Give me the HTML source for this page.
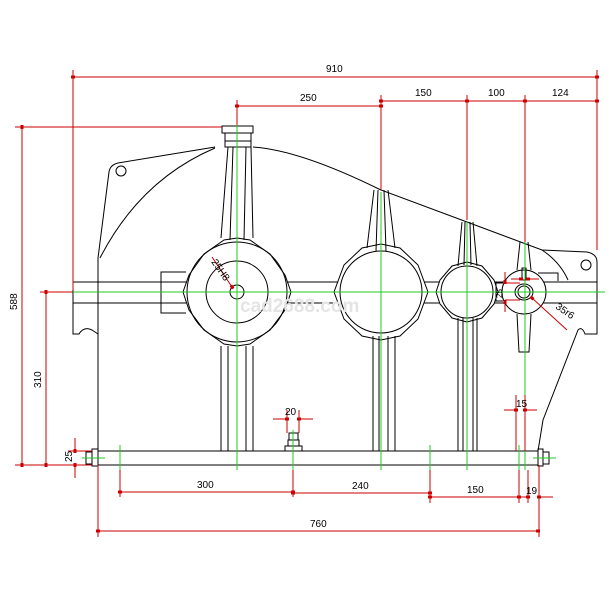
<!DOCTYPE html>
<html><head><meta charset="utf-8"><style>
html,body{margin:0;padding:0;background:#fff;}
svg{display:block;}
text{font-family:"Liberation Sans",sans-serif;font-size:10px;fill:#000;}
</style></head><body>
<svg width="610" height="610" viewBox="0 0 610 610" xmlns="http://www.w3.org/2000/svg">
<defs>
<marker id="a" viewBox="0 0 6 6" refX="3" refY="3" markerWidth="6" markerHeight="6" orient="auto"><rect x="1" y="1.5" width="4" height="3" fill="#c00"/></marker>
</defs>

<!-- housing black -->
<g stroke="#000" stroke-width="1" fill="none">
<!-- left ear & wall -->
<path d="M215,147 L118,163 Q110,165 109,172 L98,258 L98,451"/>
<path d="M215,148 Q140,180 100,258"/>
<circle cx="121" cy="171" r="5"/>
<!-- top cover right slope -->
<path d="M253,147 Q300,150 381,190 L467,222 L542,250 L587,252 Q597,254 597,262 L597,334 L585,334 Q582,326 578,330 L543,420 L538,451"/>
<path d="M542,250 Q560,262 568,280"/>
<path d="M538,273 L558,273 L558,281"/>
<circle cx="586" cy="265" r="5"/>
<!-- bearing cap -->
<rect x="222" y="126" width="31" height="7"/>
<rect x="225" y="133" width="26" height="8"/>
<rect x="225" y="141" width="26" height="6"/>
<!-- flange strip -->
<line x1="73" y1="282" x2="597" y2="282"/>
<line x1="73" y1="303" x2="597" y2="303"/>
<path d="M73,282 L73,334 L79,334 Q84,326 92,330 L98,334"/>
<path d="M186,272 L161,272 L161,313 L186,313"/>
<!-- shaft 1 -->
<path fill="#fff" d="M237,238 L250,240 L270,254 L285,275 L291,292 L285,310 L270,330 L250,344 L237,346 L224,344 L204,330 L189,310 L183,292 L189,275 L204,254 L224,240 Z"/>
<circle cx="237" cy="292" r="50"/>
<circle cx="237" cy="292" r="31"/>
<circle cx="237" cy="292" r="7"/>
<path d="M228,147 L221,238 M233,147 L230,240 M246,147 L244,240 M251,147 L253,238"/>
<path d="M221,346 L221,451 M228,346 L228,451 M246,346 L246,451 M253,346 L253,451"/>
<!-- shaft 2 -->
<path fill="#fff" d="M381,244 L400,248 L418,265 L428,292 L418,319 L400,336 L381,340 L362,336 L344,319 L334,292 L344,265 L362,248 Z"/>
<circle cx="381" cy="292" r="41"/>
<path d="M374,190 L367,248 M378,190 L376,251 M384,190 L386,251 M388,190 L395,248"/>
<path d="M373,336 L373,451 M379,336 L379,451 M388,336 L388,451 M395,336 L395,451"/>
<!-- shaft 3 -->
<path fill="#fff" d="M467,262 L482,266 L494,280 L498,292 L494,304 L482,318 L467,322 L452,318 L440,304 L436,292 L440,280 L452,266 Z"/>
<circle cx="467" cy="292" r="26"/>
<path d="M462,222 L458,266 M465,222 L464,265 M470,222 L471,265 M473,222 L477,266"/>
<path d="M458,318 L458,451 M463,318 L463,451 M473,318 L473,451 M477,318 L477,451"/>
<path d="M503,283 L496,283 L496,301 L503,301"/>
<!-- shaft 4 -->
<circle cx="524" cy="292" r="22" fill="#fff"/>
<ellipse cx="524" cy="292" rx="9" ry="8"/>
<ellipse cx="524" cy="292" rx="6" ry="6"/>
<path d="M520,242 L517,270 M528,242 L531,270"/>
<path d="M517,314 L519,352 L529,352 L531,314"/>
<rect x="522" y="268" width="4" height="12"/>
<!-- base -->
<rect x="98" y="451" width="440" height="14"/>
<rect x="86" y="452" width="6" height="12"/><rect x="92" y="449" width="6" height="17"/>
<rect x="538" y="449" width="5" height="17"/><rect x="543" y="452" width="6" height="12"/>
<!-- drain plug -->
<rect x="285" y="446" width="17" height="5"/>
<rect x="288" y="440" width="11" height="6"/>
<rect x="289" y="433" width="9" height="7"/>
</g>
<text x="240" y="312" style="font-size:19px;fill:#e4e4e4;font-weight:bold">cad2688.com</text>

<!-- green centerlines -->
<g stroke="#2c2" stroke-width="1">
<line x1="65" y1="292" x2="605" y2="292"/>
<line x1="237" y1="125" x2="237" y2="470"/>
<line x1="381" y1="192" x2="381" y2="470"/>
<line x1="467" y1="222" x2="467" y2="470"/>
<line x1="525" y1="240" x2="525" y2="470"/>
<line x1="120" y1="445" x2="120" y2="470"/>
<line x1="293" y1="430" x2="293" y2="470"/>
<line x1="430" y1="445" x2="430" y2="470"/>
<line x1="519" y1="445" x2="519" y2="470"/>
<line x1="82" y1="458" x2="105" y2="458"/>
<line x1="533" y1="458" x2="556" y2="458"/>
</g>

<!-- red dimensions -->
<g stroke="#c00" stroke-width="1" fill="none">
<line x1="73" y1="70" x2="73" y2="290"/>
<line x1="597" y1="70" x2="597" y2="250"/>
<line x1="73" y1="77" x2="597" y2="77" marker-start="url(#a)" marker-end="url(#a)"/>
<line x1="237" y1="100" x2="237" y2="125"/>
<line x1="381" y1="95" x2="381" y2="190"/>
<line x1="467" y1="95" x2="467" y2="220"/>
<line x1="525" y1="95" x2="525" y2="242"/>
<line x1="237" y1="106" x2="381" y2="106" marker-start="url(#a)" marker-end="url(#a)"/>
<line x1="381" y1="101" x2="467" y2="101" marker-start="url(#a)" marker-end="url(#a)"/>
<line x1="467" y1="101" x2="525" y2="101" marker-start="url(#a)" marker-end="url(#a)"/>
<line x1="525" y1="101" x2="597" y2="101" marker-start="url(#a)" marker-end="url(#a)"/>
<line x1="15" y1="127" x2="222" y2="127"/>
<line x1="22" y1="127" x2="22" y2="465" marker-start="url(#a)" marker-end="url(#a)"/>
<line x1="15" y1="465" x2="92" y2="465"/>
<line x1="40" y1="292" x2="73" y2="292"/>
<line x1="46" y1="292" x2="46" y2="465" marker-start="url(#a)" marker-end="url(#a)"/>
<line x1="68" y1="451" x2="92" y2="451"/>
<line x1="75" y1="438" x2="75" y2="451" marker-end="url(#a)"/>
<line x1="75" y1="478" x2="75" y2="465" marker-end="url(#a)"/>
<line x1="120" y1="470" x2="120" y2="497"/>
<line x1="293" y1="470" x2="293" y2="497"/>
<line x1="430" y1="470" x2="430" y2="503"/>
<line x1="519" y1="470" x2="519" y2="503"/>
<line x1="528" y1="470" x2="528" y2="503"/>
<line x1="98" y1="465" x2="98" y2="537"/>
<line x1="539" y1="465" x2="539" y2="537"/>
<line x1="120" y1="492" x2="293" y2="492" marker-start="url(#a)" marker-end="url(#a)"/>
<line x1="293" y1="493" x2="430" y2="493" marker-start="url(#a)" marker-end="url(#a)"/>
<line x1="430" y1="497" x2="519" y2="497" marker-start="url(#a)" marker-end="url(#a)"/>
<line x1="519" y1="497" x2="528" y2="497" marker-end="url(#a)"/>
<line x1="553" y1="497" x2="539" y2="497" marker-end="url(#a)"/>
<line x1="98" y1="531" x2="538" y2="531" marker-start="url(#a)" marker-end="url(#a)"/>
<line x1="516" y1="395" x2="516" y2="451"/>
<line x1="525" y1="395" x2="525" y2="451"/>
<line x1="504" y1="410" x2="516" y2="410" marker-end="url(#a)"/>
<line x1="537" y1="410" x2="525" y2="410" marker-end="url(#a)"/>
<line x1="287" y1="410" x2="287" y2="433"/>
<line x1="299" y1="410" x2="299" y2="433"/>
<line x1="273" y1="419" x2="287" y2="419" marker-end="url(#a)"/>
<line x1="313" y1="419" x2="299" y2="419" marker-end="url(#a)"/>
<line x1="212" y1="257" x2="232" y2="287" marker-end="url(#a)"/>
<line x1="567" y1="330" x2="532" y2="298" marker-end="url(#a)"/>
<line x1="505" y1="272" x2="505" y2="282" marker-end="url(#a)"/>
<line x1="505" y1="312" x2="505" y2="302" marker-end="url(#a)"/>
<line x1="505" y1="283" x2="520" y2="283"/>
<line x1="505" y1="300" x2="520" y2="300"/>
<line x1="511" y1="279" x2="521" y2="279" marker-end="url(#a)"/>
<line x1="539" y1="279" x2="528" y2="279" marker-end="url(#a)"/>
</g>

<!-- labels -->
<text x="326" y="72">910</text>
<text x="300" y="101">250</text>
<text x="415" y="96">150</text>
<text x="488" y="96">100</text>
<text x="552" y="96">124</text>
<text x="0" y="0" transform="translate(17,310) rotate(-90)">588</text>
<text x="0" y="0" transform="translate(41,388) rotate(-90)">310</text>
<text x="0" y="0" transform="translate(72,462) rotate(-90)">25</text>
<text x="197" y="488">300</text>
<text x="352" y="489">240</text>
<text x="467" y="493">150</text>
<text x="526" y="494">19</text>
<text x="310" y="527">760</text>
<text x="285" y="415">20</text>
<text x="516" y="407">15</text>
<text x="0" y="0" transform="translate(211,262) rotate(55)">25H8</text>
<text x="0" y="0" transform="translate(555,308) rotate(35)">35r6</text>
<text x="0" y="0" transform="translate(502,298) rotate(-90)" style="font-size:8px">25</text>
</svg>
</body></html>
